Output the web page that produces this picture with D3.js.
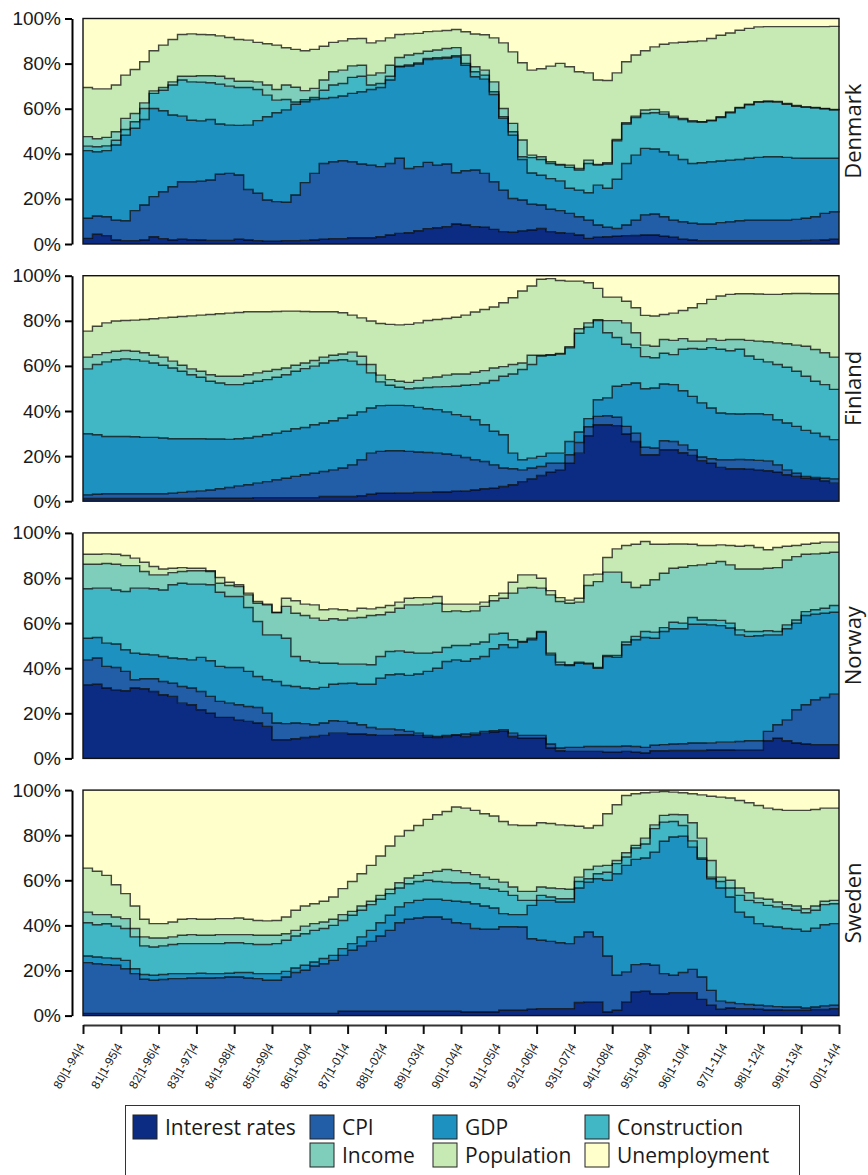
<!DOCTYPE html>
<html>
<head>
<meta charset="utf-8">
<script src="https://cdn.jsdelivr.net/npm/d3@7"></script>
<style>
  body { margin: 0; background: #fff; }
  svg { font-family: "Open Sans", "Noto Sans", sans-serif; display: block; }
</style>
</head>
<body>
<div id="chart"></div>
<script>
// series and colours (YlGnBu)
var seriesNames = ["Interest rates", "CPI", "GDP", "Construction", "Income", "Population", "Unemployment"];
var colors = ["#0c2c84", "#225ea8", "#1d91c0", "#41b6c4", "#7fcdbb", "#c7e9b4", "#ffffcc"];
var countryNames = ["Denmark", "Finland", "Norway", "Sweden"];

// estimation windows, one tick per year (every 4th quarter)
var tickLabels = ["80|1-94|4", "81|1-95|4", "82|1-96|4", "83|1-97|4", "84|1-98|4", "85|1-99|4",
  "86|1-00|4", "87|1-01|4", "88|1-02|4", "89|1-03|4", "90|1-04|4", "91|1-05|4", "92|1-06|4",
  "93|1-07|4", "94|1-08|4", "95|1-09|4", "96|1-10|4", "97|1-11|4", "98|1-12|4", "99|1-13|4", "00|1-14|4"];

// shares (%) per quarter window, 81 windows each
var dkInterest = [2.5,4.3,3.7,1.8,1.5,1.5,1.8,3.2,2.4,1.8,
  2.1,1.9,1.8,1.6,1.6,1.6,2.1,1.8,1.5,1.2,
  1.2,1.5,1.5,1.6,1.8,2.1,2.4,2.4,2.8,2.8,
  2.8,3.2,4.0,4.7,5.0,5.9,6.8,7.2,7.7,8.9,
  8.4,7.7,7.4,6.5,5.5,5.2,5.8,6.2,6.9,5.5,
  5.0,4.7,4.0,2.5,3.0,3.2,3.5,3.7,3.8,4.0,
  4.0,3.5,3.0,2.1,1.8,1.5,1.5,1.5,1.5,1.5,
  1.5,1.5,1.5,1.5,1.5,1.5,1.6,1.7,1.8,2.1,
  2.1];
var dkCPI = [8.9,8.1,8.4,8.8,8.8,13.3,15.5,17.8,20.8,23.6,
  25.5,25.7,26.1,26.8,29.4,29.7,28.5,22.4,21.0,18.3,
  17.6,17.0,20.2,25.6,29.5,33.6,34.1,34.5,33.7,32.7,
  32.2,31.1,31.7,33.3,28.5,28.4,29.4,27.8,27.8,22.7,
  24.1,25.1,23.9,21.1,18.4,15.0,13.7,11.5,10.4,9.9,
  9.8,8.9,8.1,8.1,5.4,4.2,3.4,4.7,6.8,8.9,
  9.3,8.6,7.6,7.8,7.4,7.4,7.4,8.0,8.4,8.8,
  9.1,9.1,9.1,9.1,9.1,9.4,9.8,10.4,11.8,12.2,
  12.4];
var dkGDP = [30.0,28.5,29.3,33.3,38.0,36.5,37.9,39.1,35.9,31.8,
  29.1,27.3,26.7,26.8,22.2,21.4,22.0,28.5,32.2,36.9,
  39.4,41.0,40.3,35.9,32.8,28.8,28.5,28.7,30.3,32.0,
  33.5,35.1,37.0,40.6,45.4,45.5,45.6,47.1,46.8,51.4,
  46.8,41.4,41.8,38.7,31.8,28.1,18.0,13.8,13.2,13.6,
  13.2,11.1,11.8,12.1,17.7,17.3,21.8,27.3,28.8,29.5,
  28.8,28.8,28.8,27.6,26.5,27.1,27.6,27.3,27.3,27.2,
  27.4,27.8,28.1,28.1,27.8,27.2,26.6,25.9,24.4,23.7,
  23.5];
var dkConstruction = [2.0,2.2,2.1,2.1,2.5,2.9,4.9,6.7,9.1,13.3,
  16.0,17.0,17.2,16.3,17.7,17.3,16.8,16.7,13.8,9.6,
  5.6,4.6,1.0,0.9,0.9,3.7,5.5,5.6,7.1,6.9,
  2.0,1.8,1.7,0.3,0.5,0.5,0.5,0.5,0.5,0.5,
  0.8,2.2,1.8,1.2,0.7,1.5,1.2,6.8,7.0,6.7,
  7.0,9.3,8.9,13.0,8.9,10.8,17.1,17.5,16.7,15.5,
  16.1,16.7,16.7,17.7,18.5,18.1,18.1,19.3,21.0,22.8,
  23.7,24.5,24.4,24.2,23.6,23.0,22.6,22.3,22.0,21.4,
  21.2];
var dkIncome = [4.2,3.6,3.8,3.8,4.9,3.7,2.5,1.1,1.2,1.4,
  1.7,2.5,2.8,3.1,3.5,3.4,2.8,2.8,3.4,4.5,
  4.7,6.4,6.5,4.0,4.0,4.5,5.9,5.9,5.1,4.9,
  4.4,4.7,4.9,3.8,4.4,4.2,3.2,3.4,3.9,3.6,
  3.7,2.2,2.2,4.4,3.7,3.7,7.4,1.1,1.2,0.8,
  0.3,1.0,0.7,1.5,0.3,0.5,0.6,0.6,0.6,1.5,
  1.5,1.0,0.6,0.5,0.5,0.1,0.3,0.3,0.4,0.3,
  0.3,0.2,0.3,0.3,0.3,0.3,0.3,0.3,0.1,0.3,
  0.3];
var dkPopulation = [21.8,22.1,21.5,20.7,19.2,19.5,18.2,17.8,18.8,18.8,
  18.5,18.8,18.3,18.2,17.9,18.2,18.5,18.2,17.5,18.3,
  19.7,16.5,16.8,17.7,17.3,15.0,13.0,13.0,12.0,11.8,
  14.3,14.2,12.1,10.2,9.4,8.9,8.7,8.4,8.0,8.0,
  10.3,14.5,15.7,19.5,29.1,31.7,34.3,37.7,39.0,42.4,
  44.8,43.6,42.9,38.7,37.4,36.5,29.5,27.0,27.1,26.3,
  27.7,30.0,32.5,33.8,35.1,35.9,36.2,36.2,35.0,34.2,
  33.6,33.2,33.0,33.2,34.1,35.0,35.5,35.8,36.3,36.8,
  37.1];
var dkUnemployment = [30.6,31.2,31.2,29.5,25.1,22.6,19.2,14.3,11.8,9.3,
  7.1,6.8,7.1,7.2,7.7,8.4,9.3,9.6,10.6,11.2,
  11.8,13.0,13.7,14.3,13.7,12.3,10.6,9.9,9.0,8.9,
  10.8,9.9,8.6,7.1,6.8,6.6,5.8,5.6,5.3,4.9,
  5.9,6.9,7.2,8.6,10.8,14.8,19.6,22.9,22.3,21.1,
  19.9,21.4,23.6,24.1,27.3,27.5,24.1,19.2,16.2,14.3,
  12.6,11.4,10.8,10.5,10.2,9.9,8.9,7.4,6.4,5.2,
  4.4,3.7,3.6,3.6,3.6,3.6,3.6,3.6,3.6,3.5,
  3.4];

var fiInterest = [1.2,1.2,1.2,1.2,1.2,1.2,1.2,1.2,1.2,1.2,
  1.2,1.2,1.3,1.3,1.3,1.3,1.3,1.3,1.6,1.6,
  1.6,1.6,1.6,1.6,1.6,2.1,2.1,2.1,2.1,2.4,
  3.1,3.6,3.6,3.7,3.7,3.9,3.9,4.1,4.1,4.4,
  4.6,5.0,5.5,5.8,6.5,7.3,8.7,9.9,11.4,12.9,
  13.9,16.9,21.3,29.0,33.9,33.9,33.5,29.8,26.5,20.6,
  20.6,22.8,22.8,21.5,20.3,18.0,16.9,15.0,14.4,14.4,
  14.2,13.9,13.5,12.9,11.7,11.0,10.2,9.9,9.0,8.0,
  8.0];
var fiCPI = [1.6,1.9,2.1,2.1,2.1,2.1,2.1,2.1,2.1,2.4,
  2.7,3.1,3.3,3.7,4.2,4.8,5.5,6.0,6.4,7.1,
  7.9,8.6,9.4,10.1,10.8,11.1,11.8,12.6,14.0,16.0,
  18.2,18.5,18.8,18.7,18.4,17.9,17.7,17.2,16.8,15.9,
  14.8,13.4,12.1,10.3,8.2,7.1,5.2,4.8,4.0,4.0,
  3.0,3.7,4.7,4.0,3.7,4.0,3.7,3.4,3.7,3.3,
  3.0,4.0,3.7,3.5,2.5,1.6,1.9,3.4,4.0,4.1,
  4.2,4.2,4.4,3.2,2.2,1.4,0.8,0.6,1.2,1.9,
  1.9];
var fiGDP = [27.1,26.4,25.4,25.4,25.4,25.3,25.0,25.0,24.7,24.1,
  23.8,23.4,23.1,22.6,22.1,21.3,20.9,20.7,20.7,20.8,
  20.7,20.8,21.1,21.0,21.5,21.5,21.8,22.2,22.0,21.2,
  20.0,20.3,20.1,20.1,20.3,19.8,19.4,19.3,18.7,18.1,
  18.2,17.7,16.3,14.9,14.8,6.9,4.5,4.4,4.5,4.4,
  4.4,5.9,4.7,3.6,7.4,7.9,13.8,18.5,22.2,26.0,
  26.6,25.2,25.2,24.0,23.7,24.0,22.5,20.7,20.4,20.2,
  20.4,20.7,20.5,20.0,20.8,20.8,20.4,19.7,18.5,17.4,
  17.4];
var fiConstruction = [28.8,31.1,33.1,34.0,34.4,34.2,33.8,33.0,32.3,31.4,
  29.9,28.4,27.3,25.6,24.8,24.3,24.0,24.3,24.5,24.4,
  24.8,25.1,25.5,26.1,26.0,26.6,26.7,25.8,24.0,21.0,
  15.6,10.5,8.9,8.0,7.5,8.6,9.4,10.1,11.2,12.6,
  13.8,15.6,18.5,22.5,25.9,35.1,40.0,41.5,44.5,43.4,
  43.9,41.5,43.8,40.6,35.1,28.9,21.6,17.9,15.7,14.2,
  13.4,13.6,13.3,18.4,21.2,23.8,26.8,28.3,27.9,28.7,
  25.6,24.1,23.4,24.5,24.7,24.4,24.0,23.0,23.0,22.3,
  22.3];
var fiIncome = [5.2,4.4,4.1,3.8,3.7,3.7,3.7,3.4,3.6,3.0,
  2.7,2.6,2.6,2.9,3.0,3.7,3.7,3.8,3.7,3.7,
  3.4,3.0,2.7,2.5,2.5,2.6,2.3,2.6,4.0,3.7,
  3.7,3.0,2.5,2.7,2.8,3.4,4.3,4.4,5.1,5.4,
  5.0,5.5,5.5,5.6,4.3,4.2,2.9,4.1,0.3,0.3,
  0.3,0.5,2.0,1.9,0.4,5.4,7.5,9.5,6.6,5.1,
  5.1,6.1,6.3,4.7,3.3,3.6,3.9,3.9,5.0,4.3,
  6.9,8.1,8.9,9.6,10.4,11.6,13.3,14.1,14.1,14.3,
  14.3];
var fiPopulation = [11.5,12.6,13.2,13.4,13.3,13.8,14.8,16.2,17.4,19.5,
  21.6,23.5,24.9,26.7,27.7,28.0,28.3,27.9,27.1,26.4,
  25.7,25.2,24.0,22.8,21.6,20.1,19.3,18.3,16.4,17.0,
  19.3,22.9,24.5,25.0,25.7,25.5,25.4,25.5,25.1,25.2,
  26.1,26.7,27.1,27.0,28.3,29.6,31.9,30.7,33.7,33.7,
  32.4,29.1,21.1,17.8,13.9,10.4,10.4,9.6,11.1,13.2,
  13.4,11.1,12.1,12.5,14.8,16.6,17.5,19.7,20.0,20.3,
  20.7,20.9,21.0,21.5,22.2,22.9,23.4,24.7,26.2,28.1,
  28.1];
var fiUnemployment = [24.6,22.4,20.9,20.1,19.9,19.7,19.4,19.1,18.7,18.4,
  18.1,17.8,17.5,17.2,16.9,16.6,16.3,16.0,16.0,16.0,
  15.9,15.7,15.7,15.9,16.0,16.0,16.0,16.4,17.5,18.7,
  20.1,21.2,21.6,21.8,21.6,20.9,19.9,19.4,19.0,18.4,
  17.5,16.1,15.0,13.9,12.0,9.8,6.8,4.6,1.6,1.3,
  2.1,2.4,2.4,3.1,5.6,9.5,9.5,11.3,14.2,17.6,
  17.9,17.2,16.6,15.4,14.2,12.4,10.5,9.0,8.3,8.0,
  8.0,8.1,8.3,8.3,8.0,7.9,7.9,8.0,8.0,8.0,
  8.0];

var noInterest = [32.6,32.9,31.2,30.4,30.0,31.2,30.9,29.7,28.2,27.5,
  24.5,23.8,21.6,20.1,18.2,18.2,17.1,16.4,15.7,14.2,
  8.3,8.3,8.7,9.3,9.7,10.2,11.2,11.2,10.8,10.8,
  10.5,10.2,10.2,10.5,10.5,10.2,9.5,9.3,9.7,10.2,
  9.7,10.5,11.2,11.7,12.0,9.7,9.0,9.0,9.0,4.6,
  3.4,3.1,3.1,3.1,3.1,2.8,2.8,3.1,2.8,2.4,
  3.4,3.4,3.5,3.5,3.5,3.5,3.7,3.7,3.7,3.8,
  3.8,3.8,7.8,9.0,7.8,6.8,6.4,6.1,6.1,6.1,
  6.1];
var noCPI = [11.1,11.6,9.6,9.9,8.6,3.7,4.4,5.6,5.9,5.9,
  7.4,7.4,8.1,7.4,7.1,6.3,6.7,6.6,6.9,5.9,
  7.4,7.1,7.0,6.1,5.2,5.5,5.5,5.2,4.9,4.1,
  3.2,2.9,2.9,2.2,1.5,1.0,0.7,0.4,0.5,0.3,
  1.1,0.7,0.8,0.6,0.7,1.5,1.2,1.2,1.2,1.8,
  1.2,1.8,1.8,2.2,2.2,2.5,2.5,2.4,2.5,2.5,
  2.4,2.7,2.9,3.0,3.3,3.3,3.2,3.5,3.5,3.7,
  4.0,4.0,4.2,5.9,9.3,14.8,17.4,19.9,20.9,22.4,
  22.4];
var noGDP = [9.6,9.1,10.3,10.4,9.6,11.8,10.9,10.6,11.1,11.1,
  12.3,12.5,15.1,15.8,15.5,15.8,16.5,15.6,13.7,14.8,
  18.4,16.9,16.2,15.8,16.0,15.8,16.2,16.8,17.7,18.0,
  19.2,22.5,24.0,24.7,24.8,26.2,28.4,30.3,32.8,33.2,
  32.3,33.0,33.2,36.3,37.7,38.0,41.3,42.4,45.8,39.5,
  36.9,36.3,37.3,36.5,34.7,39.9,39.5,44.9,47.3,48.7,
  47.5,50.2,51.1,51.0,52.7,52.7,52.3,51.7,50.6,47.3,
  46.3,46.6,42.8,39.9,40.4,38.4,39.6,38.0,37.4,36.3,
  36.3];
var noConstruction = [21.9,21.9,24.4,24.0,25.8,28.8,29.3,29.3,29.5,32.5,
  33.5,33.6,32.5,33.7,32.9,31.5,31.5,28.3,24.4,19.9,
  20.7,21.0,13.3,12.1,11.8,10.7,9.3,8.6,8.4,8.9,
  8.6,9.6,10.3,10.3,10.3,9.3,8.1,7.1,6.2,6.4,
  7.0,6.5,6.4,6.5,5.1,3.4,0.4,0.7,0.3,0.8,
  1.2,0.3,0.5,0.4,0.3,0.4,0.8,1.2,1.5,2.7,
  2.7,1.7,2.9,2.5,3.0,1.9,2.2,2.3,2.2,2.2,
  2.2,1.9,1.8,1.5,1.7,1.4,1.7,1.9,2.2,3.0,
  3.0];
var noIncome = [10.9,10.6,10.9,11.4,11.5,10.0,7.4,6.2,6.7,5.4,
  5.2,5.9,5.9,5.9,4.0,4.9,4.4,5.6,8.1,13.3,
  9.9,14.1,19.2,20.1,19.5,19.0,19.7,19.6,20.4,20.7,
  21.9,18.5,17.4,18.9,21.0,21.4,21.7,21.7,15.9,15.3,
  15.0,14.7,15.8,14.8,15.5,20.7,23.6,22.5,19.2,25.8,
  26.9,27.3,26.6,34.5,38.1,37.0,37.0,26.5,21.7,20.5,
  23.2,24.1,23.9,24.8,23.0,24.4,25.1,26.1,25.8,27.0,
  27.7,27.7,27.7,28.3,28.8,28.1,25.4,24.8,24.4,23.6,
  23.6];
var noPopulation = [4.4,4.4,4.3,4.4,4.5,3.3,4.1,3.7,2.6,1.9,
  1.7,1.1,1.1,0.3,2.5,1.4,0.8,0.8,0.8,0.3,
  0.0,3.6,5.5,5.0,5.9,4.7,4.4,4.5,3.2,4.1,
  2.9,3.2,3.0,2.7,2.9,3.2,2.9,3.0,3.3,3.0,
  3.3,3.0,1.9,2.3,2.3,4.8,5.9,5.6,4.4,1.9,
  1.7,1.4,1.7,4.7,3.3,6.5,10.3,16.3,19.2,19.4,
  15.8,12.9,10.8,10.3,9.5,8.6,7.9,7.4,8.6,10.1,
  10.4,9.5,8.2,8.9,6.1,4.9,4.5,4.7,4.9,4.5,
  4.5];
var noUnemployment = [9.5,9.5,9.3,9.5,10.0,11.2,13.0,14.9,16.0,15.7,
  15.4,15.7,15.7,16.8,19.8,21.9,23.0,26.7,30.4,31.6,
  35.3,29.0,30.1,31.6,31.9,34.1,33.7,34.1,34.6,33.4,
  33.7,33.1,32.2,30.7,29.0,28.7,28.7,28.2,31.6,31.6,
  31.6,31.6,30.7,27.8,26.7,21.9,18.6,18.6,20.1,25.6,
  28.7,29.8,29.0,18.6,18.3,10.9,7.1,5.6,5.0,3.8,
  5.0,5.0,4.9,4.9,5.0,5.6,5.6,5.3,5.6,5.9,
  5.6,6.5,7.5,6.5,5.9,5.6,5.0,4.6,4.1,4.1,
  4.1];

var swInterest = [1.0,1.0,1.0,1.0,1.0,1.0,1.0,1.0,1.0,1.0,
  1.0,1.0,1.0,1.0,1.0,1.0,1.0,1.0,1.0,1.0,
  1.0,1.0,1.0,1.0,1.0,1.0,1.0,1.9,1.9,1.9,
  1.9,1.9,1.9,1.9,1.9,1.9,1.9,1.9,1.9,1.9,
  1.6,1.6,1.6,1.6,2.4,2.4,2.4,2.8,3.1,3.1,
  3.1,3.1,5.8,6.1,6.1,1.6,2.4,6.1,10.5,10.8,
  9.7,9.7,10.2,10.2,10.2,7.2,4.6,2.8,3.4,3.1,
  3.1,2.8,2.5,2.5,2.4,2.4,2.4,2.7,2.7,3.1,
  3.1];
var swCPI = [22.5,22.0,21.6,21.3,19.8,17.6,15.1,14.7,15.0,15.4,
  15.4,15.7,15.7,15.7,15.8,16.1,16.1,15.7,15.4,14.7,
  14.7,16.1,18.1,19.1,21.0,22.0,23.5,24.8,27.1,29.0,
  31.0,33.4,35.9,39.3,40.8,41.4,41.8,41.8,40.8,39.3,
  39.2,37.0,36.7,36.7,37.0,37.0,36.9,31.3,30.3,29.8,
  29.2,28.8,29.1,31.0,28.9,24.8,15.5,13.3,12.1,12.2,
  12.6,8.9,7.7,8.9,10.3,9.9,6.6,3.6,2.4,2.2,
  1.8,1.8,1.8,1.5,1.4,1.4,1.0,1.1,1.6,1.5,
  1.5];
var swGDP = [2.9,3.0,3.0,3.0,3.7,2.2,2.1,2.2,2.2,2.2,
  2.2,1.9,2.1,1.9,1.8,1.7,2.0,2.4,2.2,2.9,
  2.9,2.5,2.0,2.2,1.8,2.3,2.2,3.0,2.9,4.0,
  4.9,5.9,6.7,7.0,7.4,7.8,7.9,7.9,8.4,9.5,
  9.6,11.0,10.3,9.4,5.8,5.4,5.5,14.8,17.7,18.2,
  18.1,18.5,21.7,22.1,25.7,33.6,45.0,47.2,46.7,46.9,
  50.2,58.7,61.3,60.5,54.2,52.2,49.5,50.2,46.8,40.6,
  38.8,36.2,35.4,35.3,34.8,34.5,34.0,35.0,36.0,36.2,
  36.2];
var swConstruction = [14.8,14.3,15.1,14.4,14.1,14.1,12.7,12.5,12.7,12.9,
  13.3,13.3,13.1,13.3,13.3,13.5,13.2,12.8,12.9,12.9,
  13.3,13.8,14.2,14.0,14.0,13.3,13.3,12.5,12.6,11.8,
  11.4,10.4,9.6,8.4,8.4,8.4,8.4,7.9,8.1,8.2,
  8.5,8.9,8.0,8.3,9.9,8.5,6.3,2.2,2.2,1.5,
  1.4,1.4,2.9,1.5,2.2,3.6,4.5,3.7,5.0,6.2,
  10.4,8.5,6.9,4.7,2.8,0.6,0.7,2.9,4.0,7.4,
  7.4,9.3,9.2,8.9,8.8,8.4,8.2,7.9,8.9,8.8,
  8.8];
var swIncome = [4.7,4.5,4.1,4.0,4.4,3.7,4.0,4.0,3.5,3.4,
  3.7,4.0,3.7,3.7,4.0,3.6,3.6,4.0,4.1,4.1,
  3.7,2.9,2.5,3.4,3.0,2.9,2.7,2.6,1.7,1.9,
  1.5,1.7,1.9,2.3,2.5,2.7,3.4,4.5,5.6,5.4,
  4.5,4.0,4.8,4.4,4.1,3.7,4.0,4.0,3.7,4.0,
  4.5,4.2,1.9,4.1,3.4,3.0,1.4,1.9,1.2,2.6,
  1.7,3.0,3.1,4.8,8.0,8.8,7.4,1.9,3.4,3.3,
  3.4,2.0,2.7,2.2,1.8,1.9,1.8,1.9,1.5,1.5,
  1.5];
var swPopulation = [19.5,19.2,17.4,14.3,11.1,10.0,7.8,6.4,6.4,6.6,
  7.1,7.1,7.1,7.1,7.1,7.1,7.4,6.8,6.6,6.4,
  6.6,7.4,8.9,8.9,8.8,9.2,9.9,11.5,13.3,14.3,
  15.9,17.5,19.2,20.7,21.1,22.1,23.6,25.1,25.7,28.2,
  28.6,28.5,28.1,28.1,26.9,27.6,29.2,29.2,28.5,28.6,
  28.3,28.3,22.6,18.4,18.0,22.9,24.7,25.4,22.9,20.1,
  14.5,10.6,9.9,9.7,12.9,19.2,28.5,35.5,36.5,38.8,
  39.9,41.1,40.4,41.0,41.8,42.4,43.6,42.8,41.3,40.9,
  40.9];
var swUnemployment = [34.6,36.0,37.8,42.0,45.9,51.4,57.3,59.2,59.2,58.5,
  57.3,57.0,57.3,57.3,57.0,57.0,56.7,57.3,57.8,58.0,
  57.8,56.3,53.3,51.4,50.4,49.3,47.4,43.7,40.5,37.1,
  33.4,29.2,24.8,20.4,17.9,15.7,13.0,10.9,9.5,7.5,
  8.0,9.0,10.5,11.5,13.9,15.4,15.7,15.7,14.5,14.8,
  15.4,15.7,16.0,16.8,15.7,10.5,6.5,2.4,1.6,1.2,
  0.9,0.6,0.9,1.2,1.6,2.1,2.7,3.1,3.5,4.6,
  5.6,6.8,8.0,8.6,9.0,9.0,9.0,8.6,8.0,8.0,
  8.0];

var countrySeries = [
  [dkInterest, dkCPI, dkGDP, dkConstruction, dkIncome, dkPopulation, dkUnemployment],
  [fiInterest, fiCPI, fiGDP, fiConstruction, fiIncome, fiPopulation, fiUnemployment],
  [noInterest, noCPI, noGDP, noConstruction, noIncome, noPopulation, noUnemployment],
  [swInterest, swCPI, swGDP, swConstruction, swIncome, swPopulation, swUnemployment]
];

var W = 868, H = 1175;
var plotL = 83, plotR = 839;
var panelTop = 18.5, panelH = 225.5, panelGap = 257.2;
var nQ = dkInterest.length; // 81 windows

var svg = d3.select("#chart").append("svg")
  .attr("width", W)
  .attr("height", H);

svg.append("rect").attr("width", W).attr("height", H).attr("fill", "#fff");

var x = d3.scaleLinear().domain([0, nQ - 1]).range([plotL, plotR]);

var stack = d3.stack().keys(seriesNames).offset(d3.stackOffsetExpand);

countryNames.forEach(function(name, c) {
  var top = panelTop + c * panelGap;
  var y = d3.scaleLinear().domain([0, 1]).range([top + panelH, top]);

  var rows = d3.range(nQ).map(function(q) {
    var r = {q: q};
    seriesNames.forEach(function(s, k) { r[s] = countrySeries[c][k][q]; });
    return r;
  });
  var layers = stack(rows);

  var g = svg.append("g").attr("class", "panel");

  var area = d3.area()
    .curve(d3.curveStepAfter)
    .x(function(d) { return x(d.data.q); })
    .y0(function(d) { return y(d[0]); })
    .y1(function(d) { return y(d[1]); });

  g.selectAll("path.band")
    .data(layers)
    .enter()
    .append("path")
    .attr("class", "band")
    .attr("fill", function(d, k) { return colors[k]; })
    .attr("d", area);

  var edge = d3.line()
    .curve(d3.curveStepAfter)
    .x(function(d) { return x(d.data.q); })
    .y(function(d) { return y(d[1]); });

  g.selectAll("path.edge")
    .data(layers.slice(0, seriesNames.length - 1))
    .enter()
    .append("path")
    .attr("class", "edge")
    .attr("fill", "none")
    .attr("stroke", "#000")
    .attr("stroke-opacity", 0.72)
    .attr("stroke-width", 1.4)
    .attr("d", edge);

  // frame
  g.append("rect")
    .attr("x", plotL).attr("y", top)
    .attr("width", plotR - plotL).attr("height", panelH)
    .attr("fill", "none")
    .attr("stroke", "#111")
    .attr("stroke-width", 1.4);

  // y axis, set off from the frame
  var yAxis = svg.append("g")
    .attr("transform", "translate(72,0)")
    .call(d3.axisLeft(y).tickValues([0, 0.2, 0.4, 0.6, 0.8, 1])
      .tickFormat(d3.format(".0%")).tickSize(7).tickSizeOuter(0).tickPadding(4));
  yAxis.select(".domain").attr("stroke", "#000").attr("stroke-width", 2);
  yAxis.selectAll(".tick line").attr("stroke", "#000").attr("stroke-width", 2);
  yAxis.selectAll("text").attr("font-size", 19).attr("fill", "#1a1a1a");

  // country name on the right
  svg.append("text")
    .attr("transform", "translate(853," + (top + panelH / 2) + ") rotate(-90)")
    .attr("text-anchor", "middle")
    .attr("dy", "0.35em")
    .attr("font-size", 22)
    .attr("fill", "#1a1a1a")
    .text(name);
});

// x axis under the last panel
var xAxis = svg.append("g")
  .attr("transform", "translate(0,1025)")
  .call(d3.axisBottom(x)
    .tickValues(d3.range(0, nQ, 4))
    .tickFormat(function(d, k) { return tickLabels[k]; })
    .tickSize(9).tickSizeOuter(0));
xAxis.select(".domain").attr("stroke", "#333").attr("stroke-width", 2);
xAxis.selectAll(".tick line").attr("stroke", "#111").attr("stroke-width", 2);
xAxis.selectAll("text")
  .attr("x", 0).attr("y", 0).attr("dy", "0.35em")
  .attr("text-anchor", "end")
  .attr("transform", "translate(-2,19) rotate(-60)")
  .attr("font-size", 12)
  .attr("fill", "#1a1a1a");

// legend
var legend = svg.append("g");
legend.append("rect")
  .attr("x", 125.5).attr("y", 1105.5)
  .attr("width", 674).attr("height", 90)
  .attr("fill", "#fff")
  .attr("stroke", "#333")
  .attr("stroke-width", 1);

var colX = [133, 310, 433, 585];
var rowY = [1115, 1143];
seriesNames.forEach(function(s, k) {
  var col = k < 4 ? k : k - 3;
  var row = k < 4 ? 0 : 1;
  var item = legend.append("g")
    .attr("transform", "translate(" + colX[col] + "," + rowY[row] + ")");
  item.append("rect")
    .attr("width", 24).attr("height", 24)
    .attr("fill", colors[k])
    .attr("stroke", "#222")
    .attr("stroke-width", 1);
  item.append("text")
    .attr("x", 32).attr("y", 12)
    .attr("dy", "0.36em")
    .attr("font-size", 21)
    .attr("fill", "#1a1a1a")
    .text(s);
});
</script>
</body>
</html>
